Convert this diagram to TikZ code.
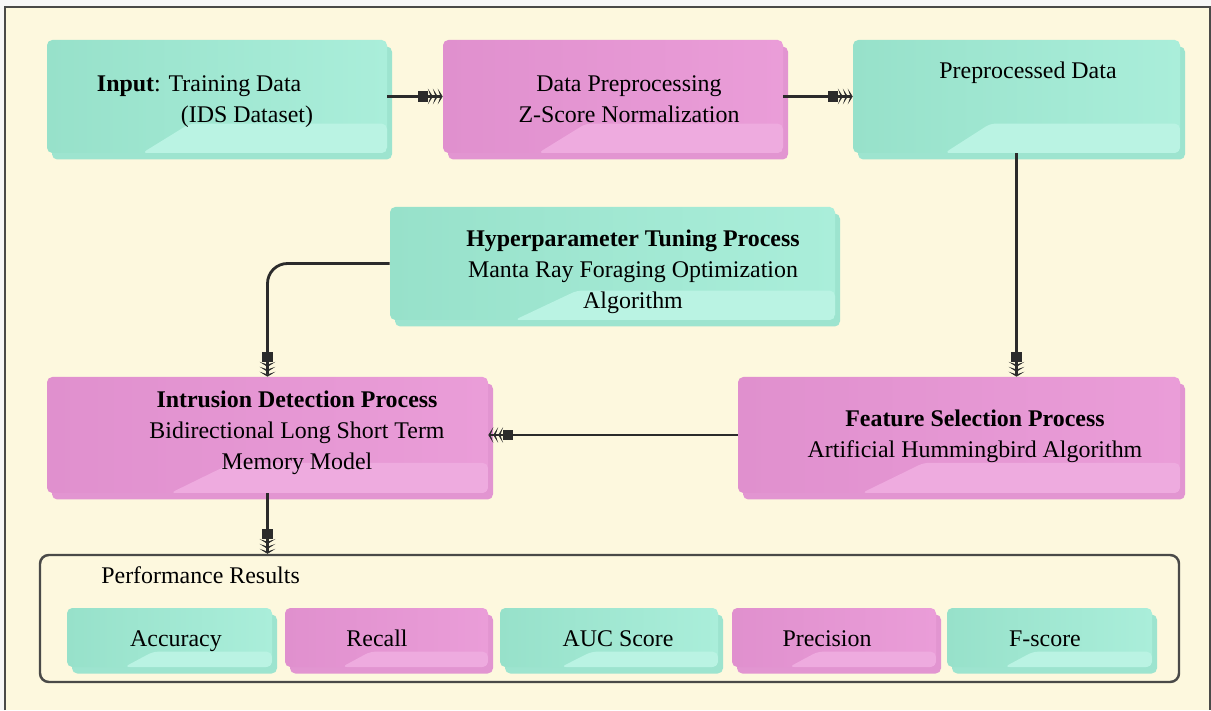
\documentclass[tikz,border=0pt]{standalone}
\usepackage{fontspec}
\setmainfont{Liberation Serif}
\usetikzlibrary{positioning,calc,arrows.meta}

\definecolor{paper}{HTML}{FDF8DE}
\definecolor{framegray}{HTML}{4A4A48}
\definecolor{inkline}{HTML}{2B2B2B}
\definecolor{tealbody}{HTML}{AAEEDA}
\definecolor{tealdark}{HTML}{97E1CA}
\definecolor{tealback}{HTML}{9DE4CF}
\definecolor{tealfold}{HTML}{BAF3E3}
\definecolor{pinkbody}{HTML}{EA9DD8}
\definecolor{pinkdark}{HTML}{E090CE}
\definecolor{pinkback}{HTML}{E295D1}
\definecolor{pinkfold}{HTML}{EEABDF}

\newcommand{\boxfont}{\fontsize{13.6pt}{17.6pt}\selectfont}

\tikzset{
  card/.style={rounded corners=3pt, inner sep=0pt,
    preaction={fill=#1back, transform canvas={xshift=0.1cm, yshift=-0.13cm}},
    left color=#1dark, right color=#1body,
    path picture={
      \fill[#1fold] let \p1=(path picture bounding box.south west),
                        \p2=(path picture bounding box.north east) in
        ({\x1+0.28*(\x2-\x1)},\y1) -- ({\x1+0.42*(\x2-\x1)},{\y1+0.26*(\y2-\y1)})
        -- (\x2,{\y1+0.26*(\y2-\y1)}) -- (\x2,\y1) -- cycle;
    }},
  bigcard/.style={card=#1, minimum height=2.26cm},
  smallcard/.style={card=#1, minimum height=1.18cm},
  txt/.style={font=\boxfont, align=center, text=black, inner sep=0pt},
  flow/.style={draw=inkline, line width=1.6pt,
    -{Rectangle[length=5.5pt,width=6pt,sep=0pt]Stealth[length=2.8pt,width=9pt,inset=1.6pt,sep=0pt]Stealth[length=2.8pt,width=9pt,inset=1.6pt,sep=0pt]Stealth[length=2.8pt,width=9pt,inset=1.6pt]}}
}

\begin{document}
\begin{tikzpicture}
  \useasboundingbox (0,0) rectangle (24.22,14.2);
  % page and frame
  \fill[white!94!gray] (0,0) rectangle (24.22,14.2);
  \fill[paper] (0.1,0) rectangle (24.2,14.06);
  \draw[framegray, line width=1.6pt] (0.1,0) -- (0.1,14.06) -- (24.2,14.06) -- (24.2,0);

  % top row
  \node[bigcard=teal, minimum width=6.8cm,
        label={[txt, align=left, xshift=-0.24cm, yshift=-0.1cm]center:{\textbf{Input}: Training Data\\\hspace*{1.68cm}(IDS Dataset)}}]
        (input) at (4.34,12.27) {};
  \node[bigcard=pink, minimum width=6.8cm,
        label={[txt, xshift=0.32cm, yshift=-0.05cm]center:{Data Preprocessing\\Z-Score Normalization}}]
        (dp) at (12.26,12.27) {};
  \node[bigcard=teal, minimum width=6.54cm,
        label={[txt, xshift=0.23cm, yshift=0.47cm]center:{Preprocessed Data}}]
        (prep) at (20.33,12.27) {};

  % tuning
  \node[bigcard=teal, minimum width=8.9cm,
        label={[txt, xshift=0.41cm, yshift=-0.17cm]center:{\textbf{Hyperparameter Tuning Process}\\Manta Ray Foraging Optimization\\Algorithm}}]
        (hyper) at (12.25,8.93) {};

  % detection and feature selection
  \node[bigcard=pink, minimum width=8.82cm, minimum height=2.32cm,
        label={[txt, xshift=0.59cm, yshift=0.04cm]center:{\textbf{Intrusion Detection Process}\\Bidirectional Long Short Term\\Memory Model}}]
        (ids) at (5.35,5.5) {};
  \node[bigcard=pink, minimum width=8.84cm, minimum height=2.32cm,
        label={[txt, xshift=0.32cm, yshift=-0.02cm]center:{\textbf{Feature Selection Process}\\Artificial Hummingbird Algorithm}}]
        (fsel) at (19.18,5.5) {};

  % results
  \node[draw=framegray, line width=1.4pt, rounded corners=5pt, fill=paper,
        minimum width=22.78cm, minimum height=2.54cm] (results) at (12.19,1.83) {};
  \node[txt, anchor=west] (restitle) at (2.02,2.7) {Performance Results};
  \foreach \name/\txt/\col/\x/\w/\dx in {acc/Accuracy/teal/3.39/4.10/0.13,
      rec/Recall/pink/7.73/4.06/-0.19, auc/AUC Score/teal/12.18/4.36/0.18,
      prec/Precision/pink/16.68/4.08/-0.14, fsc/F-score/teal/20.99/4.10/-0.09}
    \node[smallcard=\col, minimum width=\w cm,
          label={[txt, text height=0.7em, text depth=0.22em, xshift=\dx cm, yshift=-0.1cm]center:\txt}] (\name) at (\x,1.45) {};

  % connectors
  \foreach \from/\to in {input/dp, dp/prep, fsel/ids}
    \draw[flow] (\from) -- (\to);
  \draw[flow] (prep.south) -- (prep.south |- fsel.north);
  \draw[flow, rounded corners=0.4cm] (hyper.west) -| (ids.north);
  \draw[flow] (ids.south) -- (ids.south |- results.north);
\end{tikzpicture}
\end{document}
